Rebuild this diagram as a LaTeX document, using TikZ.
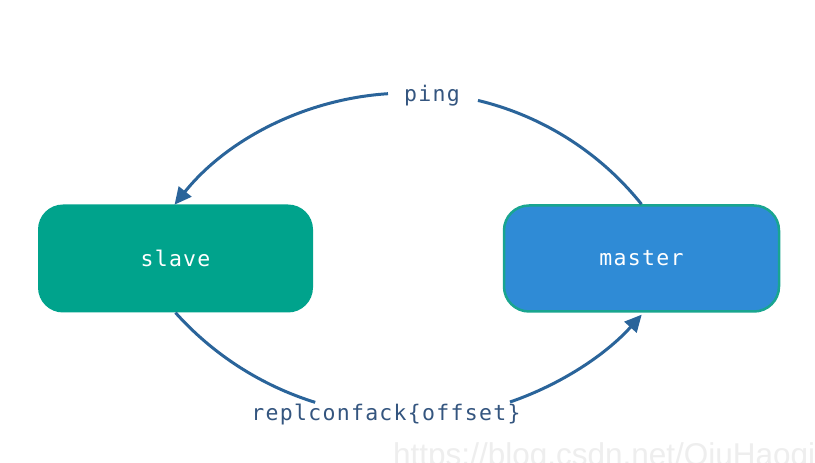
\documentclass[tikz,border=0pt]{standalone}
\usepackage{fontspec}
\usetikzlibrary{arrows.meta,calc}
\newfontfamily\codefont{DejaVu Sans Mono}[LetterSpace=6]
\newfontfamily\wmfont{Liberation Sans}
\definecolor{linecol}{HTML}{2A649A}
\definecolor{labcol}{HTML}{34557F}
\definecolor{slavecol}{HTML}{00A38C}
\definecolor{mastercol}{HTML}{2F8BD6}
\definecolor{masterborder}{HTML}{19A590}
\definecolor{wmcol}{HTML}{EEEEEE}
\begin{document}
\begin{tikzpicture}[x=1pt,y=1pt,
  box/.style={rounded corners=25pt,minimum width=275pt,minimum height=108pt,inner sep=0pt,
    font=\codefont\fontsize{21.5}{24}\selectfont,text=white},
  lab/.style={font=\codefont\fontsize{21.5}{24}\selectfont,text=labcol,inner sep=0pt},
  conn/.style={draw=linecol,line width=3pt},
  tip/.style={-{Triangle[length=17pt,width=16pt]}}]
\useasboundingbox (0,0) rectangle (815,463);
\fill[white] (0,0) rectangle (815,463);
\node[text=wmcol,font=\wmfont\fontsize{31.5}{34}\selectfont,anchor=base west,inner sep=0pt] (wm) at (393,-3) {https://blog.csdn.net/QiuHaoqi};
\node[box,fill=slavecol] (slave) at (175.5,204.5) {slave};
\node[box,fill=mastercol,draw=masterborder,line width=2.5pt,minimum width=275pt,minimum height=106pt] (master) at (641.5,204.5) {master};
\node[lab] (ping) at (432,367) {ping};
\node[lab] (rep) at (386,48) {replconfack\{offset\}};
\coordinate (pw) at (388,369.3);
\coordinate (br) at (510,61);
% top arcs (circle centre (407.5,71), r=299)
\draw[conn] (master.north) arc[start angle=38.7, end angle=76.5, radius=299];
\draw[conn,tip] (pw) arc[start angle=93.75, end angle=141.2, radius=299];
% bottom arcs (circle centre (408,359.3), r=312.5)
\draw[conn] (slave.south) arc[start angle=221.9, end angle=252.7, radius=312.5];
\draw[conn,tip] (br) arc[start angle=288.9, end angle=318.2, radius=312.5];
\end{tikzpicture}
\end{document}
